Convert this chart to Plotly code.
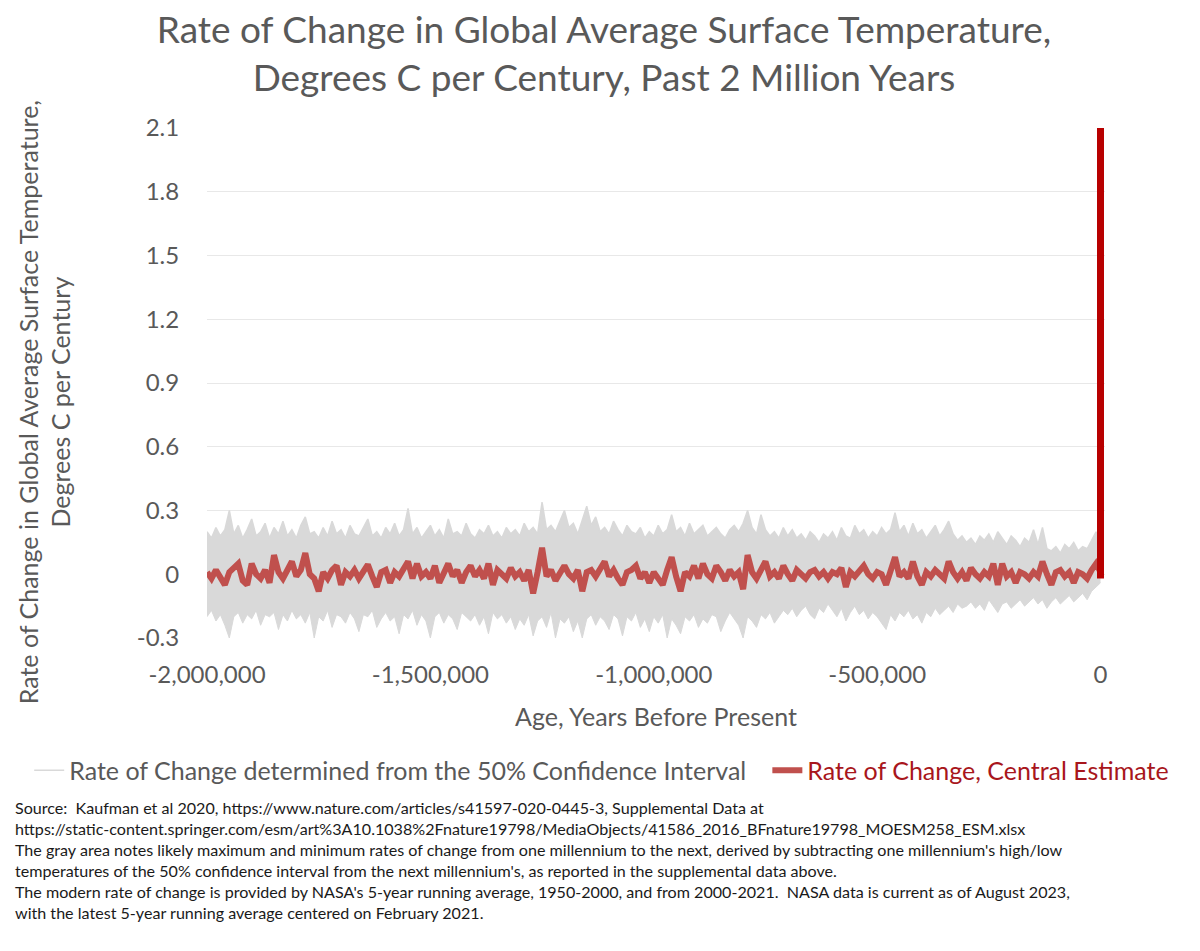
import plotly.graph_objects as go

# ── Data ──────────────────────────────────────────────────
# one value every 10,000 years, from 2 million years ago to today
age_years = list(range(-2000000, 1, 10000))

central_rate = [
    0.01, -0.02, 0.02, -0.01, -0.05, 0.01, 0.03, 0.05, -0.03, -0.05,
    0.05, 0.00, -0.02, 0.02, -0.04, 0.09, 0.01, -0.02, 0.02, 0.06,
    -0.01, 0.02, 0.10, 0.00, -0.02, -0.08, 0.01, -0.02, 0.02, 0.04,
    -0.05, 0.01, -0.01, 0.02, -0.02, 0.01, 0.045, -0.01, -0.06, 0.01,
    0.02, -0.04, 0.01, -0.01, 0.02, 0.06, -0.02, 0.05, -0.01, 0.01,
    -0.02, 0.04, -0.04, 0.01, 0.05, -0.01, 0.02, -0.04, 0.01, 0.04,
    -0.01, 0.02, -0.02, 0.05, -0.05, 0.02, 0.00, -0.02, 0.03, -0.01,
    0.01, -0.03, 0.02, -0.09, 0.01, 0.125, -0.01, 0.02, -0.03, 0.01,
    0.04, 0.00, -0.02, 0.02, -0.08, 0.01, 0.02, -0.01, 0.03, 0.06,
    -0.01, 0.02, -0.02, -0.05, 0.01, 0.02, 0.04, -0.02, 0.01, -0.04,
    0.01, -0.02, -0.05, 0.02, 0.08, -0.01, -0.08, 0.01, -0.01, 0.04,
    -0.02, 0.05, 0.00, -0.02, 0.04, 0.01, -0.03, 0.02, -0.01, 0.01,
    -0.07, 0.09, 0.01, -0.02, 0.02, 0.06, -0.01, 0.01, -0.02, 0.04,
    0.00, -0.03, 0.02, 0.00, -0.02, 0.01, 0.02, -0.01, 0.01, -0.02,
    0.01, 0.00, 0.03, -0.06, 0.01, -0.01, 0.02, 0.04, 0.00, -0.02,
    0.01, 0.00, -0.05, 0.02, 0.08, -0.01, 0.01, -0.02, 0.06, -0.01,
    -0.05, 0.01, -0.01, 0.02, 0.00, -0.02, 0.06, 0.01, -0.02, 0.01,
    -0.03, 0.03, 0.00, -0.02, 0.01, -0.01, 0.05, -0.05, 0.05, -0.01,
    0.01, -0.04, 0.01, 0.00, -0.02, 0.01, -0.01, 0.06, 0.00, -0.05,
    0.01, 0.02, -0.01, 0.01, -0.04, 0.01, 0.00, -0.02, 0.02, 0.05,
    0.01,
]

ci_high = [
    0.20, 0.17, 0.22, 0.18, 0.21, 0.30, 0.19, 0.23, 0.17, 0.21,
    0.26, 0.18, 0.20, 0.24, 0.17, 0.22, 0.19, 0.25, 0.18, 0.21,
    0.17, 0.23, 0.27, 0.19, 0.20, 0.17, 0.22, 0.18, 0.25, 0.19,
    0.21, 0.17, 0.23, 0.19, 0.18, 0.22, 0.26, 0.18, 0.20, 0.17,
    0.22, 0.19, 0.24, 0.18, 0.21, 0.31, 0.19, 0.22, 0.17, 0.20,
    0.23, 0.18, 0.21, 0.17, 0.26, 0.19, 0.20, 0.18, 0.24, 0.19,
    0.17, 0.21, 0.19, 0.23, 0.18, 0.20, 0.17, 0.22, 0.19, 0.21,
    0.18, 0.24, 0.20, 0.22, 0.19, 0.34, 0.21, 0.23, 0.20, 0.25,
    0.30, 0.22, 0.24, 0.19, 0.26, 0.32, 0.23, 0.27, 0.20, 0.22,
    0.19, 0.25, 0.21, 0.18, 0.23, 0.20, 0.19, 0.22, 0.17, 0.20,
    0.18, 0.23, 0.19, 0.21, 0.28, 0.20, 0.22, 0.18, 0.24, 0.19,
    0.21, 0.23, 0.18, 0.20, 0.22, 0.19, 0.17, 0.21, 0.23, 0.20,
    0.24, 0.30, 0.22, 0.19, 0.28, 0.21, 0.18, 0.20, 0.17, 0.22,
    0.18, 0.21, 0.17, 0.19, 0.16, 0.20, 0.18, 0.15, 0.19, 0.17,
    0.20, 0.16, 0.22, 0.18, 0.17, 0.23, 0.19, 0.21, 0.17, 0.20,
    0.18, 0.22, 0.19, 0.21, 0.29, 0.20, 0.23, 0.18, 0.24, 0.19,
    0.21, 0.17, 0.20, 0.23, 0.18, 0.21, 0.25, 0.19, 0.16, 0.18,
    0.15, 0.17, 0.14, 0.18, 0.16, 0.19, 0.15, 0.20, 0.17, 0.14,
    0.18, 0.16, 0.13, 0.17, 0.15, 0.21, 0.14, 0.22, 0.12, 0.11,
    0.13, 0.10, 0.14, 0.12, 0.15, 0.11, 0.13, 0.12, 0.16, 0.20,
    0.08,
]

ci_low = [
    -0.20, -0.17, -0.22, -0.19, -0.24, -0.30, -0.20, -0.18, -0.23, -0.19,
    -0.21, -0.17, -0.24, -0.19, -0.20, -0.18, -0.26, -0.19, -0.22, -0.17,
    -0.21, -0.19, -0.23, -0.18, -0.30, -0.20, -0.22, -0.17, -0.25, -0.19,
    -0.20, -0.23, -0.18, -0.21, -0.27, -0.19, -0.20, -0.17, -0.25, -0.21,
    -0.18, -0.22, -0.20, -0.28, -0.19, -0.21, -0.17, -0.24, -0.19, -0.22,
    -0.30, -0.20, -0.18, -0.23, -0.19, -0.21, -0.26, -0.18, -0.20, -0.22,
    -0.19, -0.24, -0.20, -0.28, -0.18, -0.21, -0.19, -0.23, -0.20, -0.26,
    -0.21, -0.24, -0.19, -0.29, -0.22, -0.20, -0.25, -0.18, -0.30, -0.21,
    -0.23, -0.20, -0.27, -0.22, -0.30, -0.21, -0.19, -0.24, -0.20, -0.22,
    -0.26, -0.19, -0.21, -0.29, -0.20, -0.22, -0.18, -0.25, -0.21, -0.27,
    -0.20, -0.23, -0.19, -0.30, -0.21, -0.24, -0.28, -0.20, -0.22, -0.19,
    -0.25, -0.21, -0.23, -0.19, -0.20, -0.27, -0.22, -0.18, -0.21, -0.24,
    -0.30, -0.20, -0.22, -0.25, -0.19, -0.21, -0.18, -0.23, -0.20, -0.17,
    -0.19, -0.16, -0.20, -0.17, -0.15, -0.19, -0.21, -0.16, -0.18, -0.14,
    -0.17, -0.20, -0.16, -0.22, -0.18, -0.15, -0.19, -0.17, -0.21, -0.18,
    -0.20, -0.23, -0.26, -0.19, -0.22, -0.18, -0.20, -0.17, -0.21, -0.19,
    -0.23, -0.18, -0.20, -0.16, -0.19, -0.17, -0.15, -0.18, -0.14, -0.16,
    -0.15, -0.13, -0.16, -0.14, -0.17, -0.12, -0.15, -0.18, -0.14, -0.13,
    -0.16, -0.14, -0.12, -0.15, -0.13, -0.11, -0.14, -0.12, -0.16, -0.13,
    -0.11, -0.14, -0.12, -0.10, -0.13, -0.11, -0.09, -0.12, -0.08, -0.06,
    -0.04,
]

# NASA modern rate (1950 -> 2021)
modern_age = [-71, 0]
modern_rate = [-0.02, 2.1]

x_tickvals = [-2000000, -1500000, -1000000, -500000, 0]
x_ticktext = ["-2,000,000", "-1,500,000", "-1,000,000", "-500,000", "0"]
y_tickvals = [-0.3, 0, 0.3, 0.6, 0.9, 1.2, 1.5, 1.8, 2.1]
y_ticktext = ["-0.3", "0", "0.3", "0.6", "0.9", "1.2", "1.5", "1.8", "2.1"]

GRAY_TEXT = "#595959"
RED_TEXT = "#a8161c"
FONT = "Lato"

source_note = (
    "Source:  Kaufman et al 2020, https://www.nature.com/articles/s41597-020-0445-3, Supplemental Data at<br>"
    "https://static-content.springer.com/esm/art%3A10.1038%2Fnature19798/MediaObjects/41586_2016_BFnature19798_MOESM258_ESM.xlsx<br>"
    "The gray area notes likely maximum and minimum rates of change from one millennium to the next, derived by subtracting one millennium's high/low<br>"
    "temperatures of the 50% confidence interval from the next millennium's, as reported in the supplemental data above.<br>"
    "The modern rate of change is provided by NASA's 5-year running average, 1950-2000, and from 2000-2021.  NASA data is current as of August 2023,<br>"
    "with the latest 5-year running average centered on February 2021."
)

# ── Figure ────────────────────────────────────────────────
fig = go.Figure()

fig.add_trace(go.Scatter(
    x=age_years, y=ci_high,
    mode="lines",
    line=dict(color="#d9d9d9", width=1.5),
    name="Rate of Change determined from the 50% Confidence Interval",
    legend="legend",
    hoverinfo="skip",
))
fig.add_trace(go.Scatter(
    x=age_years, y=ci_low,
    mode="lines",
    line=dict(color="#d9d9d9", width=1),
    fill="tonexty",
    fillcolor="#d9d9d9",
    showlegend=False,
    hoverinfo="skip",
))
fig.add_trace(go.Scatter(
    x=age_years, y=central_rate,
    mode="lines",
    line=dict(color="#c0504d", width=6),
    name="Rate of Change, Central Estimate",
    legend="legend2",
))
fig.add_trace(go.Scatter(
    x=modern_age, y=modern_rate,
    mode="lines",
    line=dict(color="#b80000", width=7),
    showlegend=False,
))

# the page body adds an 8px margin, so the figure is 8px smaller than the window
fig.update_layout(
    width=1192,
    height=943,
    plot_bgcolor="white",
    paper_bgcolor="white",
    font=dict(family=FONT, color=GRAY_TEXT),
    margin=dict(l=199, r=94.5, t=120, b=313),
    title=dict(
        text="Rate of Change in Global Average Surface Temperature,<br>Degrees C per Century, Past 2 Million Years",
        x=0.5, xanchor="center",
        y=0.963, yanchor="middle",
        font=dict(size=37, color=GRAY_TEXT),
    ),
    xaxis=dict(
        range=[-2000000, 10000],
        tickvals=x_tickvals,
        ticktext=x_ticktext,
        tickfont=dict(size=24),
        showgrid=False,
        zeroline=False,
        ticks="outside", ticklen=15, tickcolor="rgba(0,0,0,0)",
        title=dict(text="Age, Years Before Present", font=dict(size=25), standoff=21),
    ),
    yaxis=dict(
        range=[-0.3, 2.1],
        tickvals=y_tickvals,
        ticktext=y_ticktext,
        tickfont=dict(size=24),
        gridcolor="#e8e8e8",
        zeroline=False,
        ticks="outside", ticklen=22, tickcolor="rgba(0,0,0,0)",
    ),
    legend=dict(
        orientation="h",
        x=-0.198, xanchor="left",
        y=-0.26, yanchor="middle",
        font=dict(size=25, color=GRAY_TEXT),
        itemwidth=30,
        bgcolor="rgba(0,0,0,0)",
    ),
    legend2=dict(
        orientation="h",
        x=0.624, xanchor="left",
        y=-0.26, yanchor="middle",
        font=dict(size=25, color=RED_TEXT),
        itemwidth=30,
        bgcolor="rgba(0,0,0,0)",
    ),
    annotations=[
        dict(
            text="Rate of Change in Global Average Surface Temperature,<br>Degrees C per Century",
            xref="paper", yref="paper",
            x=-0.181, y=0.463,
            xanchor="center", yanchor="middle",
            textangle=-90,
            showarrow=False,
            font=dict(size=25, color=GRAY_TEXT),
        ),
        dict(
            text=source_note,
            xref="paper", yref="paper",
            x=-0.216, y=-0.309,
            xanchor="left", yanchor="top",
            align="left",
            showarrow=False,
            font=dict(size=16.1, color="#1a1a1a"),
        ),
    ],
)

fig.write_html("out.html")
